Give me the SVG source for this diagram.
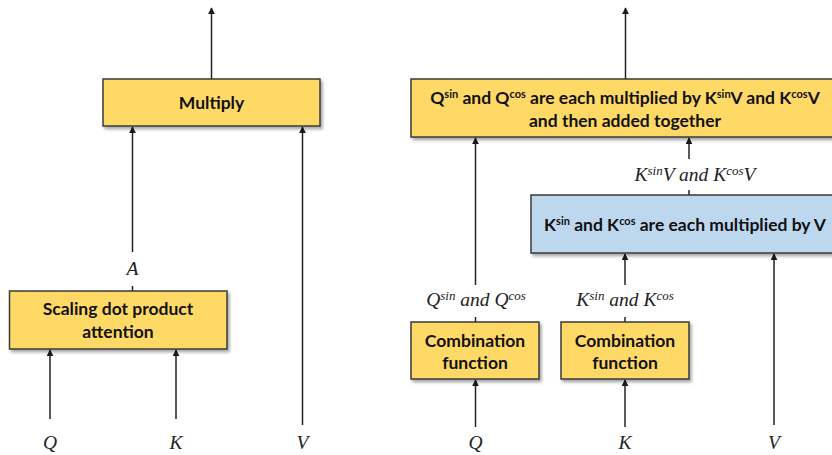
<svg xmlns="http://www.w3.org/2000/svg" width="832" height="455" viewBox="0 0 832 455">
  <defs>
    <marker id="arrow" viewBox="0 0 10 10" refX="9" refY="5" markerWidth="7" markerHeight="7" markerUnits="userSpaceOnUse" orient="auto">
      <path d="M0,0 L10,5 L0,10 z" fill="#1a1a1a"/>
    </marker>
    <filter id="shadow" x="-5%" y="-10%" width="115%" height="130%">
      <feDropShadow dx="2" dy="2.5" stdDeviation="1.5" flood-color="#000" flood-opacity="0.35"/>
    </filter>
  </defs>
  <style>
    .box { stroke: #3a3a3a; stroke-width: 1.5; filter: url(#shadow); }
    .yellow { fill: #FFD966; }
    .blue { fill: #BDD7EE; }
    .btxt { font-family: Lato, "Open Sans", "Liberation Sans", sans-serif; font-weight: bold; font-size: 17.5px; fill: #111; text-anchor: middle; }
    .sup { font-size: 11px; }
    .math { font-family: "Liberation Serif", "DejaVu Serif", serif; font-style: italic; font-size: 19.5px; fill: #222; text-anchor: middle; }
    .msup { font-size: 13px; }
    .wire { stroke: #222; stroke-width: 1.5; fill: none; }
  </style>
  <rect width="832" height="455" fill="#fff"/>

  <!-- connectors -->
  <g id="connectors">
    <!-- left network -->
    <line class="wire" x1="211.5" y1="79" x2="211.5" y2="8" marker-end="url(#arrow)"/>
    <line class="wire" x1="132.5" y1="291" x2="132.5" y2="286"/>
    <line class="wire" x1="132.5" y1="252" x2="132.5" y2="127" marker-end="url(#arrow)"/>
    <line class="wire" x1="50" y1="419" x2="50" y2="350" marker-end="url(#arrow)"/>
    <line class="wire" x1="176" y1="419" x2="176" y2="350" marker-end="url(#arrow)"/>
    <line class="wire" x1="302.5" y1="425" x2="302.5" y2="127" marker-end="url(#arrow)"/>
    <!-- right network -->
    <line class="wire" x1="625.5" y1="79" x2="625.5" y2="8" marker-end="url(#arrow)"/>
    <line class="wire" x1="689" y1="195" x2="689" y2="190"/>
    <line class="wire" x1="689" y1="159" x2="689" y2="138" marker-end="url(#arrow)"/>
    <line class="wire" x1="475.5" y1="322" x2="475.5" y2="317"/>
    <line class="wire" x1="475.5" y1="285" x2="475.5" y2="138" marker-end="url(#arrow)"/>
    <line class="wire" x1="625" y1="322" x2="625" y2="317"/>
    <line class="wire" x1="625" y1="285" x2="625" y2="254" marker-end="url(#arrow)"/>
    <line class="wire" x1="475.5" y1="427" x2="475.5" y2="380" marker-end="url(#arrow)"/>
    <line class="wire" x1="625" y1="427" x2="625" y2="380" marker-end="url(#arrow)"/>
    <line class="wire" x1="774" y1="425" x2="774" y2="254" marker-end="url(#arrow)"/>
  </g>

  <!-- left network nodes -->
  <g id="multiply">
    <rect class="box yellow" x="103" y="79" width="217" height="47"/>
    <text class="btxt" x="211.5" y="109">Multiply</text>
  </g>
  <g id="scaling-dot-product">
    <rect class="box yellow" x="9.5" y="291" width="217.5" height="58"/>
    <text class="btxt" x="118" y="315">Scaling dot product</text>
    <text class="btxt" x="118" y="338">attention</text>
  </g>
  <g id="label-a"><text class="math" x="132.5" y="275">A</text></g>
  <g id="in-q-left"><text class="math" x="50" y="449">Q</text></g>
  <g id="in-k-left"><text class="math" x="176" y="449">K</text></g>
  <g id="in-v-left"><text class="math" x="302.5" y="449">V</text></g>

  <!-- right network nodes -->
  <g id="combine-output">
    <rect class="box yellow" x="411" y="79" width="430" height="58"/>
    <text class="btxt" x="625" y="104">Q<tspan class="sup" dy="-6">sin</tspan><tspan dy="6"> and Q</tspan><tspan class="sup" dy="-6">cos</tspan><tspan dy="6"> are each multiplied by K</tspan><tspan class="sup" dy="-6">sin</tspan><tspan dy="6">V and K</tspan><tspan class="sup" dy="-6">cos</tspan><tspan dy="6">V</tspan></text>
    <text class="btxt" x="625" y="127">and then added together</text>
  </g>
  <g id="kv-product">
    <rect class="box blue" x="531" y="195" width="310" height="58"/>
    <text class="btxt" x="685" y="231">K<tspan class="sup" dy="-6">sin</tspan><tspan dy="6"> and K</tspan><tspan class="sup" dy="-6">cos</tspan><tspan dy="6"> are each multiplied by V</tspan></text>
  </g>
  <g id="label-kv"><text class="math" x="695" y="181">K<tspan class="msup" dy="-6">sin</tspan><tspan dy="6">V and K</tspan><tspan class="msup" dy="-6">cos</tspan><tspan dy="6">V</tspan></text></g>
  <g id="combination-q">
    <rect class="box yellow" x="411" y="322" width="128" height="57"/>
    <text class="btxt" x="475" y="347">Combination</text>
    <text class="btxt" x="475" y="369">function</text>
  </g>
  <g id="combination-k">
    <rect class="box yellow" x="561" y="322" width="128" height="57"/>
    <text class="btxt" x="625" y="347">Combination</text>
    <text class="btxt" x="625" y="369">function</text>
  </g>
  <g id="label-q-sincos"><text class="math" x="476" y="306">Q<tspan class="msup" dy="-6">sin</tspan><tspan dy="6"> and Q</tspan><tspan class="msup" dy="-6">cos</tspan></text></g>
  <g id="label-k-sincos"><text class="math" x="625" y="306">K<tspan class="msup" dy="-6">sin</tspan><tspan dy="6"> and K</tspan><tspan class="msup" dy="-6">cos</tspan></text></g>
  <g id="in-q-right"><text class="math" x="475.5" y="449">Q</text></g>
  <g id="in-k-right"><text class="math" x="625" y="449">K</text></g>
  <g id="in-v-right"><text class="math" x="774" y="449">V</text></g>
</svg>
